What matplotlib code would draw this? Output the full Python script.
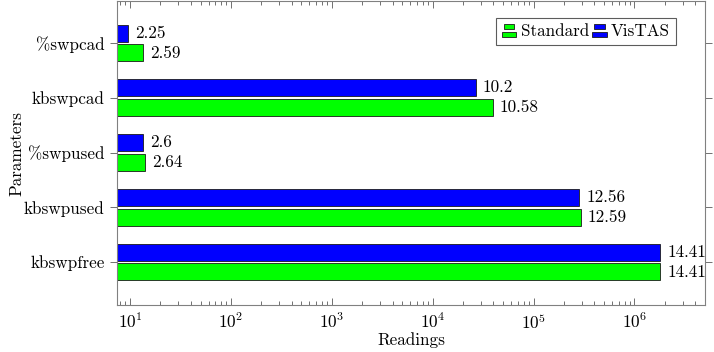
import numpy as np
import matplotlib
matplotlib.use("Agg")
import matplotlib.pyplot as plt
from matplotlib.patches import Rectangle
from matplotlib.legend_handler import HandlerBase
from matplotlib.ticker import LogLocator, NullFormatter

plt.rcParams['font.family'] = ['cmr10', 'DejaVu Serif']
plt.rcParams['mathtext.fontset'] = 'cm'
plt.rcParams['axes.formatter.use_mathtext'] = True

categories = ['%swpcad', 'kbswpcad', '%swpused', 'kbswpused', 'kbswpfree']
# labels shown are natural-log of readings
standard_ln = [2.59, 10.58, 2.64, 12.59, 14.41]
vistas_ln = [2.25, 10.2, 2.6, 12.56, 14.41]
standard_lbl = ['2.59', '10.58', '2.64', '12.59', '14.41']
vistas_lbl = ['2.25', '10.2', '2.6', '12.56', '14.41']

standard_vals = np.exp(standard_ln)
vistas_vals = np.exp(vistas_ln)

fig = plt.figure(figsize=(7.14, 3.52), dpi=100)
ax = fig.add_axes([117/714, 1 - 305/352, (705 - 117)/714, (305 - 1)/352])

y = np.arange(len(categories))
h = 0.31
off = 0.182
xmin = 10**0.87
ax.barh(y - off, vistas_vals - xmin, left=xmin, height=h, color='#0000ff',
        edgecolor='#1a1a1a', linewidth=0.6, label='VisTAS')
ax.barh(y + off, standard_vals - xmin, left=xmin, height=h, color='#00ff00',
        edgecolor='#1a1a1a', linewidth=0.6, label='Standard')

fs = 12.3
for yi, v, t in zip(y, vistas_vals, vistas_lbl):
    ax.annotate(t, (v, yi - off), xytext=(5, 0), textcoords='offset points',
                va='center', ha='left', fontsize=fs)
for yi, v, t in zip(y, standard_vals, standard_lbl):
    ax.annotate(t, (v, yi + off), xytext=(5, 0), textcoords='offset points',
                va='center', ha='left', fontsize=fs)

ax.set_xscale('log')
ax.set_xlim(xmin, 10**6.7)
ax.xaxis.set_major_locator(LogLocator(base=10, numticks=20))
ax.xaxis.set_minor_locator(LogLocator(base=10, subs=np.arange(2, 10), numticks=100))
ax.xaxis.set_minor_formatter(NullFormatter())
ax.set_ylim(4.785, -0.767)
ax.set_yticks(y)
ax.set_yticklabels(categories, fontsize=fs)
ax.set_xlabel('Readings', fontsize=fs, va='center')
ax.xaxis.set_label_coords(0.5, -(340 - 305) / 304)
ax.set_ylabel('Parameters', fontsize=fs, va='center')
ax.yaxis.set_label_coords(-(110 - 10) / 588, 0.5)
ax.tick_params(axis='x', which='both', direction='in', top=True, bottom=True,
               color='#707070', labelsize=fs, pad=5)
ax.tick_params(axis='x', which='major', length=5, width=0.7)
ax.tick_params(axis='x', which='minor', length=2.8, width=0.7)
ax.tick_params(axis='y', which='both', direction='out', left=True, right=True,
               color='#707070', length=5, width=0.7, pad=4)
for s in ax.spines.values():
    s.set_color('#808080')
    s.set_linewidth(0.8)


class BarHandler(HandlerBase):
    def __init__(self, color):
        super().__init__()
        self.color = color

    def create_artists(self, legend, orig_handle, xdescent, ydescent, width,
                       height, fontsize, trans):
        w = width
        hh = height * 0.42
        r1 = Rectangle((-xdescent + w * 0.15, -ydescent + height * 0.58), w * 0.7, hh,
                       facecolor=self.color, edgecolor='#1a1a1a', linewidth=0.6,
                       transform=trans)
        r2 = Rectangle((-xdescent, -ydescent - height * 0.08), w, hh,
                       facecolor=self.color, edgecolor='#1a1a1a', linewidth=0.6,
                       transform=trans)
        return [r1, r2]


hs = Rectangle((0, 0), 1, 1)
hv = Rectangle((0, 0), 1, 1)
leg = ax.legend([hs, hv], ['Standard', 'VisTAS'], ncol=2, fontsize=fs,
                handler_map={hs: BarHandler('#00ff00'), hv: BarHandler('#0000ff')},
                loc='upper right', bbox_to_anchor=((676 - 117) / 588, 0.944),
                frameon=True, fancybox=False, edgecolor='#333333',
                handlelength=0.85, handletextpad=0.25, columnspacing=0.2,
                borderpad=0.35, borderaxespad=0.0)
leg.get_frame().set_linewidth(0.8)

fig.savefig('out.png', dpi=100)
